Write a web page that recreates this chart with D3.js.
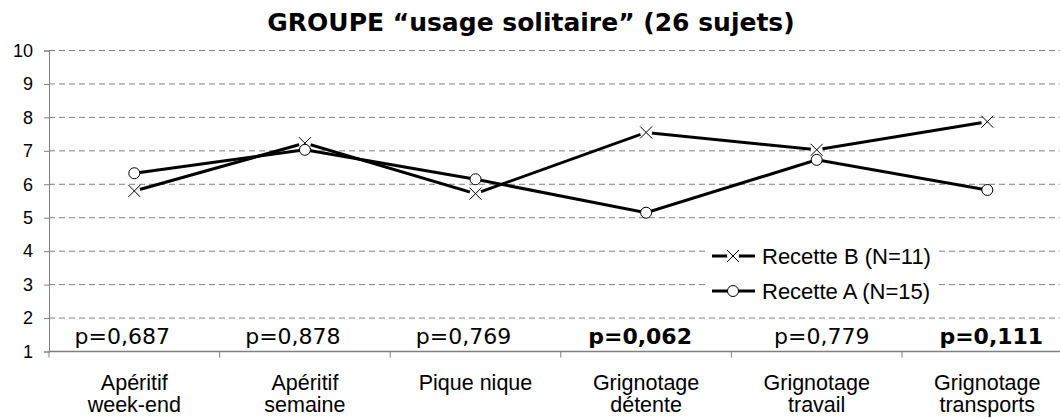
<!DOCTYPE html>
<html>
<head>
<meta charset="utf-8">
<script src="https://cdn.jsdelivr.net/npm/d3@7"></script>
<style>
  body { margin: 0; background: #fff; }
  svg { display: block; }
</style>
</head>
<body>
<svg id="chart"></svg>
<script>
// chart data
const categories = [
  ["Apéritif", "week-end"],
  ["Apéritif", "semaine"],
  ["Pique nique"],
  ["Grignotage", "détente"],
  ["Grignotage", "travail"],
  ["Grignotage", "transports"]
];
const recetteB = [5.8, 7.23, 5.72, 7.55, 7.03, 7.87];
const recetteA = [6.33, 7.03, 6.15, 5.15, 6.73, 5.83];
const pValues = ["p=0,687", "p=0,878", "p=0,769", "p=0,062", "p=0,779", "p=0,111"];
const pBold = [false, false, false, true, false, true];
const yTicks = [1, 2, 3, 4, 5, 6, 7, 8, 9, 10];
const seriesNames = ["Recette B (N=11)", "Recette A (N=15)"];

// the p-value text boxes are not exactly centred on their category
const pShift = [-12, -12, -12, -6, 5, 4];

const width = 1060;
const height = 419;
const left = 49;
const bandW = 170.6;

const svg = d3.select("#chart")
    .attr("width", width)
    .attr("height", height);

const xScale = d3.scaleBand()
    .domain(d3.range(categories.length))
    .range([left, left + bandW * categories.length]);

const yScale = d3.scaleLinear()
    .domain([1, 10])
    .range([351.5, 50.5]);

const cx = i => xScale(i) + xScale.bandwidth() / 2;

// title
svg.append("text")
    .attr("x", 531)
    .attr("y", 31)
    .attr("text-anchor", "middle")
    .attr("font-family", "'DejaVu Sans', Verdana, sans-serif")
    .attr("font-weight", "bold")
    .attr("font-size", 25)
    .text("GROUPE \u201cusage solitaire\u201d (26 sujets)");

// gridlines
svg.append("g")
    .selectAll("line")
    .data(yTicks.filter(d => d > 1))
    .enter()
    .append("line")
    .attr("x1", left)
    .attr("x2", width)
    .attr("y1", d => yScale(d))
    .attr("y2", d => yScale(d))
    .attr("stroke", "#808080")
    .attr("stroke-width", 1)
    .attr("stroke-dasharray", "6,4");

// y axis
const yAxis = d3.axisLeft(yScale)
    .tickValues(yTicks)
    .tickSize(5)
    .tickFormat(d3.format("d"));
const gy = svg.append("g")
    .attr("transform", "translate(" + left + ",0)")
    .call(yAxis);
gy.select(".domain").attr("stroke", "#808080");
gy.selectAll(".tick line").attr("stroke", "#808080");
gy.selectAll(".tick text")
    .attr("x", -16)
    .attr("font-family", "'Liberation Sans', Arial, sans-serif")
    .attr("font-size", 18)
    .attr("fill", "#000");

// x axis
const tickPos = d3.range(categories.length + 1).map(i => left + i * bandW);
svg.append("line")
    .attr("x1", left)
    .attr("x2", width)
    .attr("y1", yScale(1))
    .attr("y2", yScale(1))
    .attr("stroke", "#808080")
    .attr("stroke-width", 1.5);
svg.append("g")
    .selectAll("line")
    .data(tickPos)
    .enter()
    .append("line")
    .attr("x1", d => d)
    .attr("x2", d => d)
    .attr("y1", yScale(1))
    .attr("y2", yScale(1) + 6)
    .attr("stroke", "#808080");

// category labels
const catLabels = svg.append("g")
    .selectAll("text")
    .data(categories)
    .enter()
    .append("text")
    .attr("text-anchor", "middle")
    .attr("font-family", "'Liberation Sans', Arial, sans-serif")
    .attr("font-size", 21.5)
    .attr("x", (d, i) => cx(i))
    .attr("y", 390);
catLabels.selectAll("tspan")
    .data((d, i) => d.map(t => ({ t: t, i: i })))
    .enter()
    .append("tspan")
    .attr("x", d => cx(d.i))
    .attr("dy", (d, j) => j === 0 ? 0 : 22)
    .text(d => d.t);

// p values
svg.append("g")
    .selectAll("text")
    .data(pValues)
    .enter()
    .append("text")
    .attr("x", (d, i) => cx(i) + pShift[i])
    .attr("y", 344)
    .attr("text-anchor", "middle")
    .attr("font-family", "'DejaVu Sans', Verdana, sans-serif")
    .attr("font-size", 22)
    .attr("font-weight", (d, i) => pBold[i] ? "bold" : "normal")
    .text(d => d);

// lines
const line = d3.line()
    .x((d, i) => cx(i))
    .y(d => yScale(d));

[recetteB, recetteA].forEach(series => {
    svg.append("path")
        .datum(series)
        .attr("fill", "none")
        .attr("stroke", "#000")
        .attr("stroke-width", 3)
        .attr("d", line);
});

function drawCross(g, x, y) {
    g.append("circle").attr("cx", x).attr("cy", y).attr("r", 6).attr("fill", "#fff");
    g.append("path")
        .attr("d", `M${x - 6},${y - 6}L${x + 6},${y + 6}M${x - 6},${y + 6}L${x + 6},${y - 6}`)
        .attr("stroke", "#000")
        .attr("stroke-width", 1);
}
function drawCircle(g, x, y) {
    g.append("circle")
        .attr("cx", x).attr("cy", y).attr("r", 5.5)
        .attr("fill", "#fff")
        .attr("stroke", "#000")
        .attr("stroke-width", 1);
}

const markers = svg.append("g");
recetteB.forEach((v, i) => drawCross(markers, cx(i), yScale(v)));
recetteA.forEach((v, i) => drawCircle(markers, cx(i), yScale(v)));

// legend
const legend = svg.append("g");
legend.append("rect")
    .attr("x", 708)
    .attr("y", 238)
    .attr("width", 230)
    .attr("height", 70)
    .attr("fill", "#fff");
const legRows = [
    { name: seriesNames[0], y: 256, kind: "x" },
    { name: seriesNames[1], y: 291, kind: "o" }
];
legRows.forEach(r => {
    legend.append("line")
        .attr("x1", 712).attr("x2", 755)
        .attr("y1", r.y).attr("y2", r.y)
        .attr("stroke", "#000")
        .attr("stroke-width", 3);
    if (r.kind === "x") drawCross(legend, 733, r.y);
    else drawCircle(legend, 733, r.y);
    legend.append("text")
        .attr("x", 762)
        .attr("y", r.y + 8)
        .attr("font-family", "'Liberation Sans', Arial, sans-serif")
        .attr("font-size", 22)
        .text(r.name);
});
</script>
</body>
</html>
